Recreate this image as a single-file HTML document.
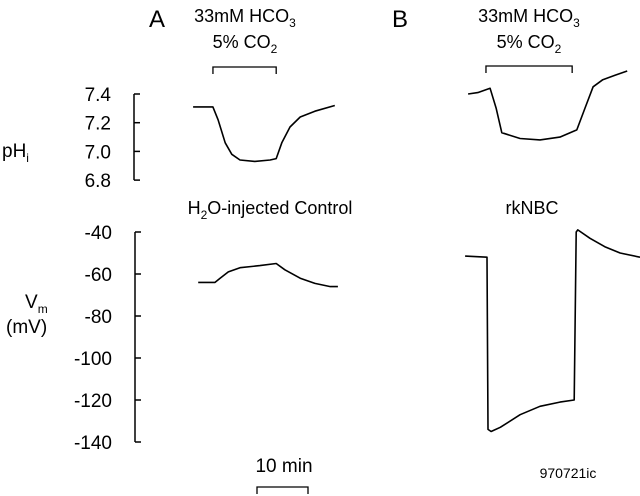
<!DOCTYPE html>
<html><head><meta charset="utf-8"><style>
html,body{margin:0;padding:0;background:#fff;}
svg{display:block;font-family:"Liberation Sans",sans-serif;}
</style></head><body>
<svg id="chart" width="640" height="496" viewBox="0 0 640 496">
<g fill="#000" stroke="none">
<text x="149" y="27" font-size="24">A</text>
<text x="392" y="27" font-size="24">B</text>
<text x="245" y="22" font-size="18" text-anchor="middle">33mM HCO<tspan font-size="12" dy="5">3</tspan></text>
<text x="245" y="48" font-size="18" text-anchor="middle">5% CO<tspan font-size="12" dy="5">2</tspan></text>
<text x="529" y="22" font-size="18" text-anchor="middle">33mM HCO<tspan font-size="12" dy="5">3</tspan></text>
<text x="529" y="48" font-size="18" text-anchor="middle">5% CO<tspan font-size="12" dy="5">2</tspan></text>
<text x="2" y="157" font-size="19">pH<tspan font-size="12" dy="5">i</tspan></text>
<text x="25" y="308" font-size="19">V<tspan font-size="12" dy="5">m</tspan></text>
<text x="6" y="333" font-size="19">(mV)</text>
<text x="270" y="214" font-size="18" text-anchor="middle">H<tspan font-size="12" dy="5">2</tspan><tspan dy="-5">O-injected Control</tspan></text>
<text x="532" y="214" font-size="18" text-anchor="middle">rkNBC</text>
<text x="284" y="472" font-size="19" text-anchor="middle">10 min</text>
<text x="568" y="478" font-size="14" text-anchor="middle">970721ic</text>
</g>
<g id="axes" stroke="#000" stroke-width="1.5" fill="none"></g>
<g id="traces" stroke="#000" stroke-width="1.6" fill="none" stroke-linejoin="round"></g>
</svg>
<script>
const phTicks=[7.4,7.2,7.0,6.8];
const phTickLabels=["7.4","7.2","7.0","6.8"];
const vmTicks=[-40,-60,-80,-100,-120,-140];
const vmTickLabels=["-40","-60","-80","-100","-120","-140"];
const aPhTime=[0.6,4.5,5.5,6.9,8.2,9.8,12.7,15.7,16.9,18.0,19.6,21.6,24.5,28.4];
const aPhVal=[7.31,7.31,7.22,7.06,6.98,6.94,6.93,6.94,6.95,7.06,7.17,7.24,7.28,7.32];
const aVmTime=[1.6,4.9,5.9,7.5,9.8,13.7,16.9,18.6,21.6,24.5,27.5,29.0];
const aVmVal=[-64,-64,-62,-59,-57,-56,-55,-58,-62,-64.5,-66,-66];
const bPhTime=[1.2,3.1,5.5,6.7,7.8,11.4,15.3,19.2,22.5,24.1,25.7,27.6,30.0,32.4];
const bPhVal=[7.40,7.41,7.44,7.30,7.13,7.09,7.08,7.10,7.15,7.30,7.45,7.50,7.53,7.56];
const bVmTime=[0.6,4.9,5.1,5.7,7.5,11.4,15.3,19.2,22.0,22.4,22.7,25.1,28.0,31.0,34.9];
const bVmVal=[-51.5,-52,-134,-135,-133,-127,-123,-121,-120,-40,-39,-43,-47,-50,-52];
const aSolution=[4.5,16.9];
const bSolution=[4.7,21.6];
const scaleBarMin=[0,10];

const NS="http://www.w3.org/2000/svg";
const pxPerMin=5.1;
const xA=t=>190+t*pxPerMin, xB=t=>462+t*pxPerMin, xS=t=>257+t*pxPerMin;
const yPh=v=>94+(7.4-v)/0.2*28.7;
const yVm=v=>232+(-40-v)/20*42;
const axes=document.getElementById('axes'), traces=document.getElementById('traces'), svg=document.getElementById('chart');
function mk(tag,attrs,parent){const e=document.createElementNS(NS,tag);for(const k in attrs)e.setAttribute(k,attrs[k]);parent.appendChild(e);return e;}
function axis(ticks,labels,yf,x,name){
  const y0=yf(ticks[0]),y1=yf(ticks[ticks.length-1]);
  const l=mk('line',{x1:x,x2:x,y1:y0,y2:y1},axes);
  
  
  ticks.forEach((v,i)=>{
    const t=mk('line',{x1:x,x2:x+6,y1:yf(v),y2:yf(v)},axes);
    
    
    const tx=mk('text',{x:x-23,y:yf(v)+7,'font-size':19,'text-anchor':'end',fill:'#000'},svg);
    tx.textContent=labels[i];
    
    
  });
}
axis(phTicks,phTickLabels,yPh,134,'ph');
axis(vmTicks,vmTickLabels,yVm,135,'vm');
function line(ts,vs,xf,yf,name){
  const d=ts.map((t,i)=>(i?'L':'M')+xf(t).toFixed(1)+' '+yf(vs[i]).toFixed(1)).join(' ');
  const p=mk('path',{d:d},traces);
  
  
}
line(aPhTime,aPhVal,xA,yPh,'control-phi-trace');
line(aVmTime,aVmVal,xA,yVm,'control-vm-trace');
line(bPhTime,bPhVal,xB,yPh,'rknbc-phi-trace');
line(bVmTime,bVmVal,xB,yVm,'rknbc-vm-trace');
function bracket(r,xf,y,dir,name){
  const x1=xf(r[0]),x2=xf(r[1]);
  const p=mk('path',{d:`M${x1} ${y+dir*7} L${x1} ${y} L${x2} ${y} L${x2} ${y+dir*7}`,'stroke-width':1.3},axes);
  
  
}
bracket(aSolution,xA,67,1,'panel-a-solution-bracket');
bracket(bSolution,xB,66,1,'panel-b-solution-bracket');
bracket(scaleBarMin,xS,487,1,'time-scale-bar');
</script>
</body></html>
